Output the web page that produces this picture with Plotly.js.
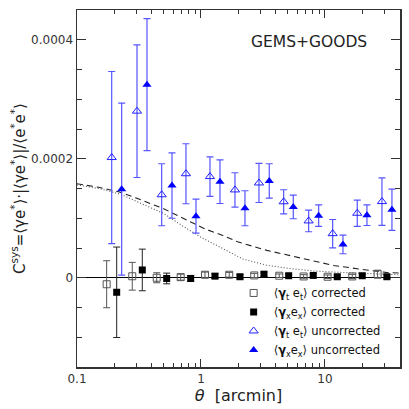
<!DOCTYPE html>
<html>
<head>
<meta charset="utf-8">
<script src="https://cdn.plot.ly/plotly-3.0.1.min.js"></script>
<style>html,body{margin:0;padding:0;background:#fff;}#chart{width:409px;height:409px;}</style>
</head>
<body>
<div id="chart"></div>
<script>
// <γt et> corrected (open squares)
const thetaTC = [0.1735, 0.279, 0.4395, 0.686, 1.077, 1.69, 2.69, 4.28, 6.73, 10.5, 16.6, 26.6];
const valTC   = [-1.09e-5, 0.25e-5, 0.0, 0.1e-5, 0.5e-5, 0.5e-5, 0.39e-5, 0.34e-5, 0.22e-5, 0.17e-5, 0.22e-5, 0.6e-5];
const errTC   = [3.95e-5, 2.33e-5, 0.84e-5, 0.5e-5, 0.45e-5, 0.4e-5, 0.35e-5, 0.3e-5, 0.3e-5, 0.3e-5, 0.35e-5, 0.67e-5];
// <γx ex> corrected (filled squares)
const thetaXC = [0.209, 0.3362, 0.529, 0.8257, 1.297, 2.063, 3.222, 5.097, 8.046, 12.57, 19.99, 31.6];
const valXC   = [-2.44e-5, 1.31e-5, -0.12e-5, -0.12e-5, 0.27e-5, 0.17e-5, 0.6e-5, 0.34e-5, 0.39e-5, 0.17e-5, 0.34e-5, 0.17e-5];
const errXC   = [7.6e-5, 3.5e-5, 0.9e-5, 0.5e-5, 0.4e-5, 0.35e-5, 0.35e-5, 0.3e-5, 0.3e-5, 0.3e-5, 0.3e-5, 0.35e-5];
// <γt et> uncorrected (open triangles)
const thetaTU = [0.1905, 0.3047, 0.482, 0.7568, 1.182, 1.88, 2.936, 4.644, 7.387, 11.54, 18.22, 28.83];
const valTU   = [2.02e-4, 2.80e-4, 1.395e-4, 1.748e-4, 1.70e-4, 1.476e-4, 1.593e-4, 1.277e-4, 0.955e-4, 0.741e-4, 1.084e-4, 1.28e-4];
const errTU   = [1.446e-4, 1.115e-4, 0.521e-4, 0.504e-4, 0.331e-4, 0.289e-4, 0.328e-4, 0.202e-4, 0.182e-4, 0.238e-4, 0.221e-4, 0.40e-4];
// <γx ex> uncorrected (filled triangles)
const thetaXU = [0.2293, 0.3669, 0.5836, 0.9114, 1.423, 2.263, 3.555, 5.553, 8.897, 13.97, 21.81, 34.7];
const valXU   = [1.489e-4, 3.245e-4, 1.55e-4, 1.035e-4, 1.615e-4, 1.168e-4, 1.627e-4, 1.19e-4, 1.044e-4, 0.56e-4, 1.052e-4, 1.143e-4];
const errXU   = [1.445e-4, 1.11e-4, 0.55e-4, 0.286e-4, 0.367e-4, 0.294e-4, 0.289e-4, 0.198e-4, 0.182e-4, 0.157e-4, 0.174e-4, 0.347e-4];
// model curves
const thetaDash = [0.1, 0.15, 0.22, 0.3, 0.5, 0.75, 1.08, 1.5, 2, 3.4, 6, 11.7, 20, 31, 40];
const valDash   = [1.58e-4, 1.52e-4, 1.44e-4, 1.34e-4, 1.16e-4, 0.985e-4, 0.82e-4, 0.71e-4, 0.60e-4, 0.46e-4, 0.34e-4, 0.207e-4, 0.14e-4, 0.09e-4, 0.08e-4];
const thetaDot  = [0.1, 0.15, 0.22, 0.3, 0.5, 0.7, 1.0, 1.5, 2.2, 3.0, 3.4, 5, 8, 12, 20, 40];
const valDot    = [1.56e-4, 1.50e-4, 1.41e-4, 1.29e-4, 1.08e-4, 0.88e-4, 0.68e-4, 0.49e-4, 0.31e-4, 0.24e-4, 0.21e-4, 0.16e-4, 0.115e-4, 0.094e-4, 0.075e-4, 0.05e-4];

const xTickVals = [0.1, 1, 10];
const xTickText = ['0.1', '1', '10'];
const yTickVals = [0, 0.0002, 0.0004];
const yTickText = ['0', '0.0002', '0.0004'];

const FONT = 'DejaVu Sans, Verdana, sans-serif';
const AX = '#333';

const traces = [
  {x: thetaDash, y: valDash, mode: 'lines', line: {color: '#222', width: 1.1, dash: '6px,4px'}, showlegend: false, hoverinfo: 'skip'},
  {x: thetaDot, y: valDot, mode: 'lines', line: {color: '#555', width: 1.1, dash: '1px,2px'}, showlegend: false, hoverinfo: 'skip'},
  {x: thetaTC, y: valTC, mode: 'markers', name: '⟨<b>γ</b><sub>t</sub> e<sub>t</sub>⟩ corrected',
   marker: {symbol: 'square-open', size: 7, color: '#555', line: {width: 1, color: '#555'}},
   error_y: {type: 'data', array: errTC, visible: true, color: '#555', thickness: 1, width: 3.5}},
  {x: thetaXC, y: valXC, mode: 'markers', name: '⟨<b>γ</b><sub>x</sub>e<sub>x</sub>⟩ corrected',
   marker: {symbol: 'square', size: 7, color: '#000'},
   error_y: {type: 'data', array: errXC, visible: true, color: '#222', thickness: 1, width: 3.5}},
  {x: thetaTU, y: valTU, mode: 'markers', name: '⟨<b>γ</b><sub>t</sub> e<sub>t</sub>⟩ uncorrected',
   marker: {symbol: 'triangle-up-open', size: 8, color: '#2020ff', line: {width: 1, color: '#2020ff'}},
   error_y: {type: 'data', array: errTU, visible: true, color: '#5555ff', thickness: 1.2, width: 3.5}},
  {x: thetaXU, y: valXU, mode: 'markers', name: '⟨<b>γ</b><sub>x</sub>e<sub>x</sub>⟩ uncorrected',
   marker: {symbol: 'triangle-up', size: 8, color: '#0000ff'},
   error_y: {type: 'data', array: errXU, visible: true, color: '#5555ff', thickness: 1.2, width: 3.5}}
];

const layout = {
  width: 409, height: 409,
  margin: {l: 77, r: 9, t: 10, b: 42},
  paper_bgcolor: '#fff', plot_bgcolor: '#fff',
  font: {family: FONT, color: '#222'},
  showlegend: true,
  legend: {x: 0.485, y: 0.248, xanchor: 'left', yanchor: 'top', bgcolor: 'rgba(0,0,0,0)',
           font: {family: FONT, size: 11.5, color: '#111'}, tracegroupgap: 0},
  xaxis: {
    type: 'log', range: [-1, Math.log10(40.3)],
    tickvals: xTickVals, ticktext: xTickText,
    ticks: 'inside', ticklen: 8, tickwidth: 1, tickcolor: AX,
    showline: true, linecolor: AX, linewidth: 1.5, mirror: 'allticks',
    showgrid: false, zeroline: false,
    tickfont: {family: FONT, size: 12, color: '#333'},
    minor: {tickvals: [0.2,0.3,0.4,0.5,0.6,0.7,0.8,0.9,2,3,4,5,6,7,8,9,20,30,40], ticks: 'inside', ticklen: 4, tickcolor: AX, showgrid: false},
    title: {text: '<i>θ</i>  [arcmin]', font: {family: FONT, size: 16, color: '#222'}, standoff: 2}
  },
  yaxis: {
    range: [-0.00015, 0.00045],
    tickvals: yTickVals, ticktext: yTickText,
    ticks: 'inside', ticklen: 9, tickwidth: 1, tickcolor: AX,
    showline: true, linecolor: AX, linewidth: 1.5, mirror: 'allticks',
    showgrid: false,
    zeroline: true, zerolinecolor: '#000', zerolinewidth: 1.3,
    tickfont: {family: FONT, size: 12, color: '#333'},
    minor: {tickvals: [-0.0001,-0.00005,0.00005,0.0001,0.00015,0.00025,0.0003,0.00035], ticks: 'inside', ticklen: 5, tickcolor: AX, showgrid: false},
    title: {text: 'C<sup>sys</sup>=⟨γe<sup>*</sup>⟩·|⟨γe<sup>*</sup>⟩|/⟨e<sup>*</sup>e<sup>*</sup>⟩', font: {family: FONT, size: 15, color: '#222'}, standoff: 2}
  },
  annotations: [
    {text: 'GEMS+GOODS', xref: 'paper', yref: 'paper', x: 0.719, y: 0.911, xanchor: 'center', yanchor: 'middle',
     showarrow: false, font: {family: FONT, size: 15.5, color: '#222'}}
  ]
};

Plotly.newPlot('chart', traces, layout, {displayModeBar: false, staticPlot: true});
</script>
</body>
</html>
